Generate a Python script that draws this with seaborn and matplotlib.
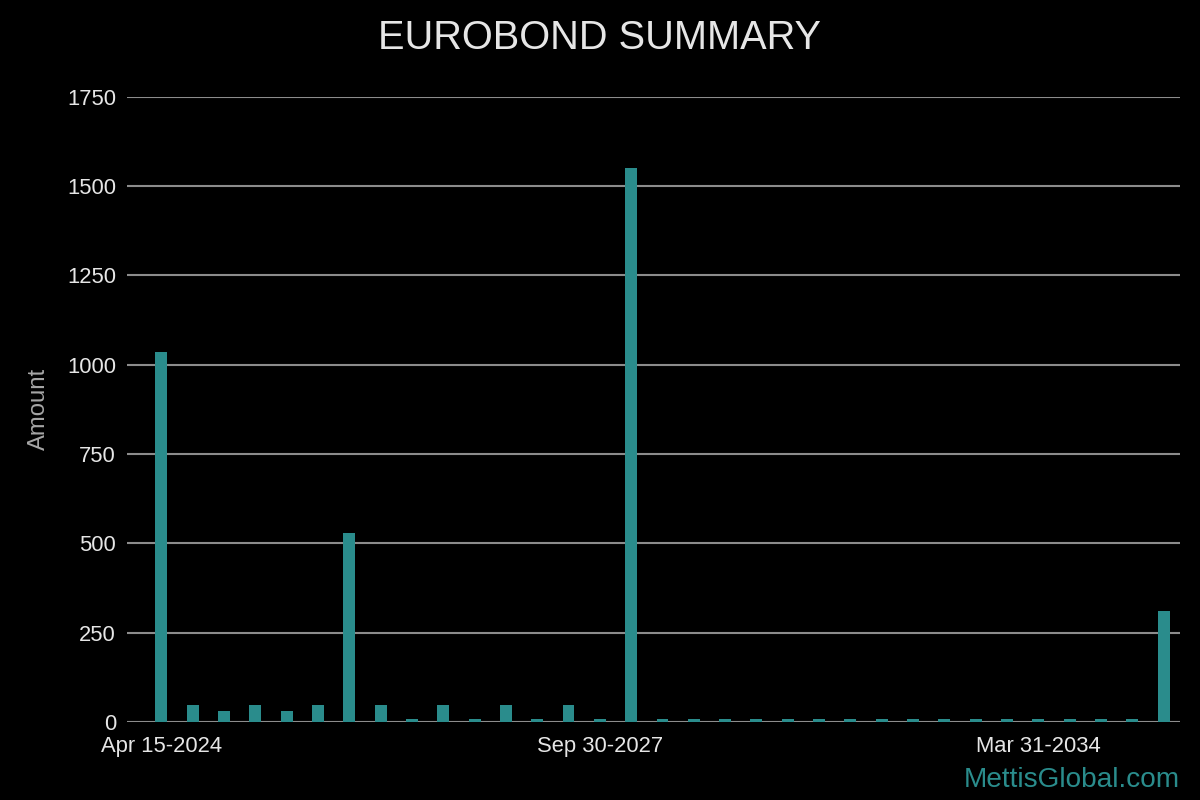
import matplotlib
matplotlib.use("Agg")
import matplotlib.pyplot as plt
import seaborn as sns
import pandas as pd

# Data
positions = list(range(33))
amounts = [1037, 47, 30, 47, 30, 47, 530, 47, 8, 47, 8, 47, 8, 47, 8, 1550,
           8, 8, 8, 8, 8, 8, 8, 8, 8, 8, 8, 8, 8, 8, 8, 8, 310]
tick_positions = [0, 14, 28]
tick_labels = ["Apr 15-2024", "Sep 30-2027", "Mar 31-2034"]
y_ticks = [0, 250, 500, 750, 1000, 1250, 1500, 1750]

df = pd.DataFrame({"pos": positions, "amount": amounts})

sns.set_theme(style="dark")
plt.rcParams["font.family"] = ["Liberation Sans", "DejaVu Sans"]

fig = plt.figure(figsize=(12, 8), dpi=100, facecolor="black")
ax = fig.add_axes([0.106, 0.0975, 0.877, 0.7815])
ax.set_facecolor("black")

sns.barplot(data=df, x="pos", y="amount", color="#2a8c8c", saturation=1,
            width=0.38, ax=ax, order=positions, linewidth=0, edgecolor="none")

ax.set_ylim(0, 1750)
ax.set_xlim(-1.09, 32.51)
ax.set_yticks(y_ticks)
ax.set_yticklabels([str(v) for v in y_ticks])
ax.set_xticks(tick_positions)
ax.set_xticklabels(tick_labels)
ax.tick_params(axis="both", colors="#e6e6e6", labelsize=15.8, length=0, pad=8)
ax.tick_params(axis="x", pad=10)
ax.yaxis.grid(True, color="#8c8c8c", linewidth=1.5)
ax.xaxis.grid(False)
ax.set_axisbelow(True)
for s in ax.spines.values():
    s.set_visible(False)

ax.set_xlabel("")
ax.set_ylabel("Amount", color="#a6a6a6", fontsize=17.2, labelpad=12)

fig.text(0.5, 0.953, "EUROBOND SUMMARY", ha="center", va="center",
         color="#e6e6e6", fontsize=28.6)
fig.text(0.983, 0.025, "MettisGlobal.com", ha="right", va="center",
         color="#2a8c8c", fontsize=20.2)

fig.savefig("out.png", dpi=100, facecolor="black")
